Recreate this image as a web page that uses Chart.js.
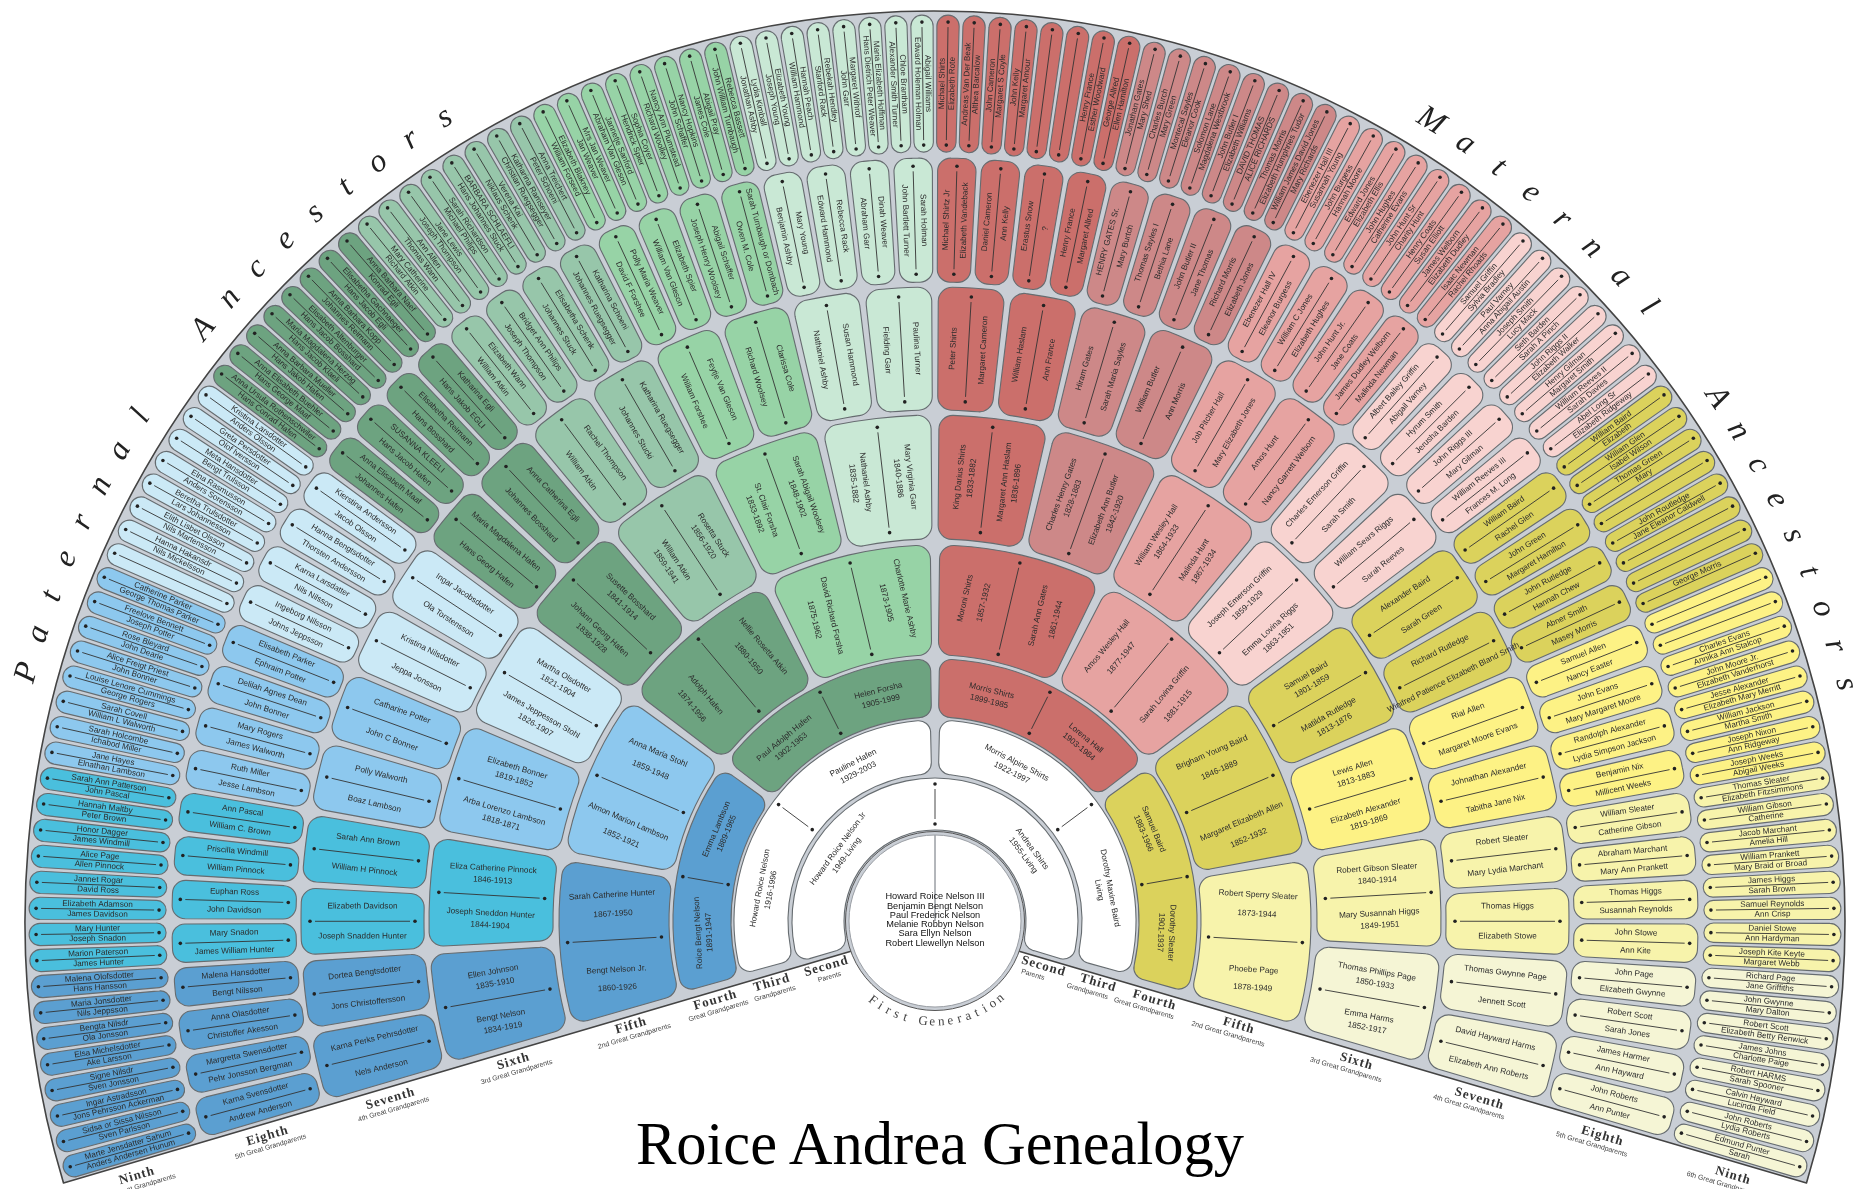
<!DOCTYPE html>
<html>
<head>
<meta charset="utf-8">
<title>Roice Andrea Genealogy</title>
<script src="https://cdn.jsdelivr.net/npm/chart.js@4/dist/chart.umd.js"></script>
<style>
  html, body { margin: 0; padding: 0; background: #fff; overflow: hidden; }
  #wrap { position: relative; width: 1864px; height: 1189px; }
  #fan { display: block; }
  #title {
    position: absolute; left: 0; width: 1880px; top: 1104px; text-align: center;
    font: 60.5px "Liberation Serif", serif; color: #000; line-height: 80px;
  }
</style>
</head>
<body>
<div id="wrap">
  <canvas id="fan" width="1864" height="1189"></canvas>
  <div id="title">Roice Andrea Genealogy</div>
</div>
<script>
// People, one list per generation, running clockwise from the lower left
const firstGeneration = ['Howard Roice Nelson III', 'Benjamin Bengt Nelson', 'Paul Frederick Nelson',
  'Melanie Robbyn Nelson', 'Sara Ellyn Nelson', 'Robert Llewellyn Nelson'];

const gen2Couples = [['Howard Roice Nelson Jr', '1949-Living', 'Andrea Shirts', '1955-Living']];

const gen3Couples = [
  ['Howard Roice Nelson', '1916-1996', 'Pauline Hafen', '1929-2003'],
  ['Morris Alpine Shirts', '1922-1997', 'Dorothy Maxine Baird', 'Living']
];

const gen4Couples = [
  ['Roice Bengt Nelson', '1891-1947', 'Emma Lambson', '1889-1965'],
  ['Paul Adolph Hafen', '1902-1963', 'Helen Forsha', '1905-1999'],
  ['Morris Shirts', '1899-1985', 'Lorena Hall', '1903-1984'],
  ['Samuel Baird', '1883-1966', 'Dorothy Sleater', '1901-1937']
];

const gen5Couples = [
  ['Sarah Catherine Hunter', '1867-1950', 'Bengt Nelson Jr.', '1860-1926'],
  ['Anna Maria Stohl', '1859-1948', 'Almon Marion Lambson', '1852-1921'],
  ['Nellie Rosetta Atkin', '1880-1950', 'Adolph Hafen', '1874-1956'],
  ['Charlotte Marie Ashby', '1873-1905', 'David Richard Forsha', '1875-1962'],
  ['Moroni Shirts', '1857-1932', 'Sarah Ann Gates', '1861-1944'],
  ['Amos Wesley Hall', '1877-1947', 'Sarah Lovina Griffin', '1881-1915'],
  ['Brigham Young Baird', '1846-1889', 'Margaret Elizabeth Allen', '1852-1932'],
  ['Robert Sperry Sleater', '1873-1944', 'Phoebe Page', '1878-1949']
];

const gen6Couples = [
  ['Ellen Johnson', '1835-1910', 'Bengt Nelson', '1834-1919'],
  ['Eliza Catherine Pinnock', '1846-1913', 'Joseph Sneddon Hunter', '1844-1904'],
  ['Elizabeth Bonner', '1819-1852', 'Arba Lorenzo Lambson', '1818-1871'],
  ['Martha Olsdotter', '1821-1904', 'James Jeppesson Stohl', '1826-1907'],
  ['Susette Bosshard', '1841-1914', 'Johann Georg Hafen', '1838-1928'],
  ['Rosetta Stuck', '1856-1920', 'William Atkin', '1859-1941'],
  ['Sarah Abigail Woolsey', '1848-1902', 'St. Clair Forsha', '1833-1892'],
  ['Mary Virginia Garr', '1840-1886', 'Nathaniel Ashby', '1835-1882'],
  ['King Darius Shirts', '1833-1882', 'Margaret Ann Haslam', '1836-1896'],
  ['Charles Henry Gates', '1828-1883', 'Elizabeth Ann Butler', '1842-1920'],
  ['William Wesley Hall', '1864-1933', 'Malinda Hunt', '1867-1934'],
  ['Joseph Emerson Griffin', '1859-1929', 'Emma Lovina Riggs', '1863-1951'],
  ['Samuel Baird', '1801-1859', 'Matilda Rutledge', '1813-1876'],
  ['Lewis Allen', '1813-1883', 'Elizabeth Alexander', '1819-1869'],
  ['Robert Gibson Sleater', '1840-1914', 'Mary Susannah Higgs', '1849-1951'],
  ['Thomas Phillips Page', '1850-1933', 'Emma Harms', '1852-1917']
];

const gen7Couples = [
  ['Karna Perks Pehrsdotter', 'Nels Anderson'], ['Dortea Bengtsdotter', 'Jons Christoffersson'],
  ['Elizabeth Davidson', 'Joseph Snadden Hunter'], ['Sarah Ann Brown', 'William H Pinnock'],
  ['Polly Walworth', 'Boaz Lambson'], ['Catharine Potter', 'John C Bonner'],
  ['Kristina Nilsdotter', 'Jeppa Jonsson'], ['Ingar Jacobsdotter', 'Ola Torstensson'],
  ['Maria Magdalena Hafen', 'Hans Georg Hafen'], ['Anna Catherina Egli', 'Johannes Bosshard'],
  ['Rachel Thompson', 'William Atkin'], ['Katharina Ruegsegger', 'Johannes Stucki'],
  ['Feytje Van Gleson', 'William Forshee'], ['Clarissa Cole', 'Richard Woolsey'],
  ['Susan Hammond', 'Nathaniel Ashby'], ['Paulina Turner', 'Fielding Garr'],
  ['Peter Shirts', 'Margaret Cameron'], ['William Haslam', 'Ann France'],
  ['Hiram Gates', 'Sarah Maria Sayles'], ['William Butler', 'Ann Morris'],
  ['Job Pitcher Hall', 'Mary Elizabeth Jones'], ['Amos Hunt', 'Nancy Garrett Welborn'],
  ['Charles Emerson Griffin', 'Sarah Smith'], ['William Sears Riggs', 'Sarah Reeves'],
  ['Alexander Baird', 'Sarah Green'], ['Richard Rutledge', 'Winifred Patience Elizabeth Bland Smith'],
  ['Rial Allen', 'Margaret Moore Evans'], ['Johnathan Alexander', 'Tabitha Jane Nix'],
  ['Robert Sleater', 'Mary Lydia Marchant'], ['Thomas Higgs', 'Elizabeth Stowe'],
  ['Thomas Gwynne Page', 'Jennett Scott'], ['David Hayward Harms', 'Elizabeth Ann Roberts']
];

const gen8Couples = [
  ['Karna Svensdotter', 'Andrew Anderson'], ['Margretta Swensdotter', 'Pehr Jonsson Bergman'],
  ['Anna Olasdotter', 'Christoffer Akesson'], ['Malena Hansdotter', 'Bengt Nilsson'],
  ['Mary Snadon', 'James William Hunter'], ['Euphan Ross', 'John Davidson'],
  ['Priscilla Windmill', 'William Pinnock'], ['Ann Pascal', 'William C. Brown'],
  ['Ruth Miller', 'Jesse Lambson'], ['Mary Rogers', 'James Walworth'],
  ['Delilah Agnes Dean', 'John Bonner'], ['Elisabeth Parker', 'Ephraim Potter'],
  ['Ingeborg Nilsson', 'Johns Jeppsson'], ['Karna Larsdatter', 'Nils Nilsson'],
  ['Hanna Bengtsdotter', 'Thorsten Andersson'], ['Kierstina Andersson', 'Jacob Olsson'],
  ['Anna Elisabeth Maaf', 'Johannes Hafen'], ['SUSANNA KLEELI', 'Hans Jacob Hafen'],
  ['Elisabetha Reimann', 'Hans Bosshard'], ['Katharina Egli', 'Hans Jakob EGLI'],
  ['Elizabeth Wann', 'William Atkin'], ['Bridget Ann Philips', 'Joseph Thompson'],
  ['Elisabetha Schenk', 'Johannes Stuck'], ['Katharina Schoeni', 'Johannes Ruegsegger'],
  ['Polly Maria Weaver', 'David F Forshee'], ['Elizabeth Spier', 'William Van Gleson'],
  ['Abigail Schaffer', 'Joseph Henry Woolsey'], ['Sarah Turnbaugh or Dombach', 'Owen M. Cole'],
  ['Mary Young', 'Benjamin Ashby'], ['Rebecca Rack', 'Edward Hammond'],
  ['Dinah Weaver', 'Abraham Garr'], ['Sarah Holman', 'John Bartlett Turner'],
  ['Michael Shirtz Jr', 'Elizabeth Vandeback'], ['Daniel Cameron', 'Ann Kelly'],
  ['Erastus Snow', '?'], ['Henry France', 'Margaret Allred'],
  ['HENRY GATES Sr.', 'Mary Burtch'], ['Thomas Sayles I', 'Bethia Lane'],
  ['John Butler II', 'Jane Thomas'], ['Richard Morris', 'Elizabeth Jones'],
  ['Ebenezer Hall IV', 'Eleanor Burgess'], ['William C Jones', 'Elizabeth Hughes'],
  ['John Hunt Jr.', 'Jane Coats'], ['James Dudley Welborn', 'Malinda Newman'],
  ['Albert Bailey Griffin', 'Abigail Varney'], ['Hyrum Smith', 'Jerusha Barden'],
  ['John Riggs III', 'Mary Gilman'], ['William Reeves III', 'Frances M. Long'],
  ['William Baird', 'Rachel Glen'], ['John Green', 'Margaret Hamilton'],
  ['John Rutledge', 'Hannah Chew'], ['Abner Smith', 'Masey Morris'],
  ['Samuel Allen', 'Nancy Easter'], ['John Evans', 'Mary Margaret Moore'],
  ['Randolph Alexander', 'Lydia Simpson Jackson'], ['Benjamin Nix', 'Millicent Weeks'],
  ['William Sleater', 'Catherine Gibson'], ['Abraham Marchant', 'Mary Ann Prankett'],
  ['Thomas Higgs', 'Susannah Reynolds'], ['John Stowe', 'Ann Kite'],
  ['John Page', 'Elizabeth Gwynne'], ['Robert Scott', 'Sarah Jones'],
  ['James Harmer', 'Ann Hayward'], ['John Roberts', 'Ann Punter']
];

const gen9Couples = [
  ['Marte Jensdatter Sahum', 'Anders Andersen Hunum'], ['Sidsa or Sissa Nilsson', 'Sven Parlsson'],
  ['Ingar Astradsson', 'Jons Pehrsson Ackerman'], ['Signe Nilsdr', 'Sven Jonsson'],
  ['Elsa Michelsdotter', 'Ake Larsson'], ['Bengta Nilsdr', 'Ola Jonsson'],
  ['Maria Jonsdotter', 'Nils Jeppsson'], ['Malena Olofsdotter', 'Hans Hansson'],
  ['Marion Paterson', 'James Hunter'], ['Mary Hunter', 'Joseph Snadon'],
  ['Elizabeth Adamson', 'James Davidson'], ['Jannet Rogar', 'David Ross'],
  ['Alice Page', 'Allen Pinnock'], ['Honor Dagger', 'James Windmill'],
  ['Hannah Maltby', 'Peter Brown'], ['Sarah Ann Patterson', 'John Pascal'],
  ['Jane Hayes', 'Elnathan Lambson'], ['Sarah Holcombe', 'Ichabod Miller'],
  ['Sarah Covell', 'William L Walworth'], ['Louise Lenore Cummings', 'George Rogers'],
  ['Alice Freigt Priest', 'John Bonner'], ['Rose Bleyard', 'John Dearie'],
  ['Freelove Bennett', 'Joseph Potter'], ['Catherine Parker', 'George Thomas Parker'],
  ['', ''], ['Hanna Hakansdr', 'Nils Mickelsson'],
  ['Elith Lisbet Olsson', 'Nils Martensson'], ['Beretha Trulsdotter', 'Lars Johannesson'],
  ['Elna Rasmusson', 'Anders Sorensson'], ['Meta Hansdotter', 'Bengt Trulsson'],
  ['Greta Persdotter', 'Olof Iversson'], ['Kristina Larsdotter', 'Anders Olsson'],
  ['Anna Ursula Rothenschwiler', 'Hans Conrad Hafen'], ['Anna Elisabeth Buehler', 'Hans George Maaf'],
  ['Anna Barbara Mueller', 'Hans Jakob Hafen'], ['Maria Magdalena Herzog', 'Hans Jacob Klaeli'],
  ['Elisabeth Altenburger', 'Hans Jacob Bosshard'], ['Anna Barbara Kopp', 'Johannes Reimann'],
  ['Elisabetha Gachnaeger', 'Hans Jacob Egli'], ['Anna Barbara Naef', 'Konrad Egli'],
  ['Mary Catherine', 'Richard Atkin'], ['Ann Allen', 'Thomas Wann'],
  ['Jane Lewis', 'Joseph Thompson'], ['Sarah Richardson', 'Michael Philips'],
  ['BARBARA SCHLAEFLI', 'Hans Johannes Stuck'], ['Verena Kai', 'Niklaus Schenk'],
  ['Katharina Ramseyer', 'Christian Ruegsegger'], ['Anna Treichert', 'Peter Schoeni'],
  ['Elizabeth Blakney', 'William Forseed'], ['Mrs Jan Weaver', 'Jan Weaver'],
  ['Jannetje Sanford', 'Abraham Van Gleson'], ['Sophia Coyer', 'Hendrick Spier'],
  ['Nancy Ann Plumstead', 'Richard Woolley'], ['Nancy Hopkins', 'John Schaffer'],
  ['Abigail Pray', 'James Cole'], ['Rebecca Bassett', 'John William Turnbaugh'],
  ['Lydia Kimball', 'Jonathan Ashby'], ['Elizabeth Young', 'Joseph Young'],
  ['Hannah Peach', 'William Hammond'], ['Rebekah Hendley', 'Stanford Rack'],
  ['Margaret Withrof', 'John Garr'], ['Maria Elizabeth Hoffman', 'Hans Dietrich Peter Weaver'],
  ['Chloe Brantham', 'Alexander Smith Turner'], ['Abigail Williams', 'Edward Holeman Holman'],
  ['Michael Shirts', 'Elizabeth Rote'], ['Andreas Van Der Beak', 'Althea Barcalow'],
  ['John Cameron', 'Margaret S Coyle'], ['John Kelly', 'Margaret Amour'],
  ['', ''], ['', ''],
  ['Henry France', 'Esther Woodward'], ['George Allred', 'Ellen Hamilton'],
  ['Jonathan Gates', 'Mary Shed'], ['Charles Burch', 'Mary Green'],
  ['Montecal Sayles', 'Eleanor Cook'], ['Solomon Lane', 'Magdalena Westbrook'],
  ['John Butler I', 'Elizabeth Williams'], ['DAVID THOMAS', 'ALICE RICHARDS'],
  ['Thomas Morris', 'Elizabeth Humphries Tudor'], ['William James David Jones', 'Mary Richards'],
  ['Ebenezer Hall III', 'Susannah Young'], ['John Burgess', 'Hannah Moore'],
  ['Edward Jones', 'Elizabeth Ellis'], ['John Hughes', 'Catherine Evans'],
  ['John Hunt Sr', 'Charity Hunt'], ['Henry Coats', 'Susan Elliott'],
  ['James Welborn', 'Elizabeth Dudley'], ['Isaac Newman', 'Rachel Rhoads'],
  ['Samuel Griffin', 'Sylvia Bradley'], ['Paul Varney', 'Anna Abigail Austin'],
  ['Joseph Smith', 'Lucy Mack'], ['Seth Barden', 'Sarah A Pinch'],
  ['John Riggs II', 'Elizabeth Walker'], ['Henry Gilman', 'Margaret Smith'],
  ['William Reeves II', 'Sarah Davies'], ['Abel Long Sr', 'Elizabeth Ridgeway'],
  ['William Baird', 'Elizabeth'], ['William Glen', 'Isabel Wilson'],
  ['Thomas Green', 'Mary'], ['', ''],
  ['John Routledge', 'Jane Eleanor Caldwell'], ['', ''],
  ['', ''], ['George Morris', ''],
  ['', ''], ['', ''],
  ['Charles Evans', 'Annika Ann Stalcop'], ['John Moore Jr.', 'Elizabeth Vanderhorst'],
  ['Jesse Alexander', 'Elizabeth Mary Merritt'], ['William Jackson', 'Martha Smith'],
  ['Joseph Nixon', 'Ann Ridgeway'], ['Joseph Weeks', 'Abigail Weeks'],
  ['Thomas Sleater', 'Elizabeth Fitzsimmons'], ['William Gibson', 'Catherine'],
  ['Jacob Marchant', 'Amelia Hill'], ['William Prankett', 'Mary Braid or Broad'],
  ['James Higgs', 'Sarah Brown'], ['Samuel Reynolds', 'Ann Crisp'],
  ['Daniel Stowe', 'Ann Hardyman'], ['Joseph Kite Keyte', 'Margaret Webb'],
  ['Richard Page', 'Jane Griffiths'], ['John Gwynne', 'Mary Dalton'],
  ['Robert Scott', 'Elizabeth Betty Renwick'], ['James Johns', 'Charlotte Paige'],
  ['Robert HARMS', 'Sarah Spooner'], ['Calvin Hayward', 'Lucinda Field'],
  ['John Roberts', 'Lydia Roberts'], ['Edmund Punter', 'Sarah']
];

const genTitles = ['Second', 'Third', 'Fourth', 'Fifth', 'Sixth', 'Seventh', 'Eighth', 'Ninth'];
const genSubtitles = ['Parents', 'Grandparents', 'Great Grandparents', '2nd Great Grandparents',
  '3rd Great Grandparents', '4th Great Grandparents', '5th Great Grandparents', '6th Great Grandparents'];

// one colour per sixth generation couple, older generations inherit it
const familyColors = ['#5b9fd1', '#4abfdd', '#8dc8ee', '#cbe9f6', '#6da380', '#97c6aa', '#97d3a6', '#c9e8d5',
  '#cb6f6b', '#cd8888', '#e6a3a1', '#f8d3d0', '#dbd25c', '#fdf285', '#f7f3ab', '#f5f5d5'];

// ring setup, outermost first. cellGap is the empty share of a cell's slot,
// Chart.js spacing hardly opens a gap on narrow arcs so the gaps are transparent slices
const rings = [
  { couples: gen9Couples, gen: 9, width: 137, gapOutside: 4, cellGap: 0.145, radius: 11, nameOffset: 5, dotInset: 7 },
  { couples: gen8Couples, gen: 8, width: 124, gapOutside: 6, cellGap: 0.12, radius: 13, nameOffset: 9, dotInset: 8 },
  { couples: gen7Couples, gen: 7, width: 123, gapOutside: 5, cellGap: 0.09, radius: 14, nameOffset: 15, dotInset: 9 },
  { couples: gen6Couples, gen: 6, width: 124, gapOutside: 5, cellGap: 0.068, radius: 14, dotInset: 9 },
  { couples: gen5Couples, gen: 5, width: 110, gapOutside: 6, cellGap: 0.054, radius: 14, dotInset: 8 },
  { couples: gen4Couples, gen: 4, width: 58, gapOutside: 4, cellGap: 0.037, radius: 12, dotInset: 6 },
  { couples: gen3Couples, gen: 3, width: 54, gapOutside: 3, cellGap: 0.025, radius: 12, dotInset: 6 },
  { couples: gen2Couples, gen: 2, width: 52, gapOutside: 4, cellGap: 0, radius: 12, dotInset: 6 }
];
const CENTER_RADIUS = 86;
const CENTER_GAP = 5;
const FAN_RADIUS = 910;
const FAN_ROTATION = -106.7;
const FAN_SWEEP = 213.4;

function cellColor(gen, i) {
  if (gen < 4) return '#ffffff';
  if (gen >= 6) return familyColors[i >> (gen - 6)];
  return familyColors[i << (6 - gen)];
}

const datasets = [];
rings.forEach(ring => {
  const g = ring.cellGap;
  const n = ring.couples.length;
  datasets.push({ data: [1], weight: ring.gapOutside, backgroundColor: 'transparent', borderWidth: 0 });
  datasets.push({
    data: g ? ring.couples.flatMap(() => [1 - g, g]) : ring.couples.map(() => 1),
    weight: ring.width,
    rotation: FAN_ROTATION + (g / 2) * (FAN_SWEEP / n),
    circumference: FAN_SWEEP,
    borderRadius: ring.radius,
    backgroundColor: g
      ? ring.couples.flatMap((c, i) => [cellColor(ring.gen, i), 'transparent'])
      : ring.couples.map((c, i) => cellColor(ring.gen, i)),
    borderColor: '#666c70',
    borderWidth: g ? ring.couples.flatMap(() => [1.1, 0]) : 1.1,
    ring: ring
  });
});
datasets.push({ data: [1], weight: CENTER_GAP, backgroundColor: 'transparent', borderWidth: 0 });
datasets.push({ data: [1], weight: CENTER_RADIUS, backgroundColor: '#ffffff', borderColor: '#9a9ea4', borderWidth: 1, center: true });

const NAME_FONT = '8.2px "Liberation Sans", Arial, sans-serif';
const INK = '#2b2b2b';

function pointAt(el, angle, r) {
  return { x: el.x + Math.cos(angle) * r, y: el.y + Math.sin(angle) * r };
}

function drawMarriageLine(ctx, el, mid, rIn, rOut, inset) {
  const a = pointAt(el, mid, rIn + inset), b = pointAt(el, mid, rOut - inset);
  const a2 = pointAt(el, mid, rIn + inset + 5), b2 = pointAt(el, mid, rOut - inset - 5);
  ctx.strokeStyle = '#333';
  ctx.lineWidth = 0.9;
  ctx.beginPath();
  ctx.moveTo(a2.x, a2.y);
  ctx.lineTo(b2.x, b2.y);
  ctx.stroke();
  ctx.fillStyle = '#222';
  [a, b].forEach(p => {
    ctx.beginPath();
    ctx.arc(p.x, p.y, 1.8, 0, Math.PI * 2);
    ctx.fill();
  });
}

function drawText(ctx, text, x, y, rot) {
  if (!text) return;
  ctx.save();
  ctx.translate(x, y);
  ctx.rotate(rot);
  ctx.fillText(text, 0, 0);
  ctx.restore();
}

// letters set one by one on a circle, angles in degrees from the top
function letterArc(ctx, text, cx, cy, r, startDeg, stepDeg, below) {
  [...text].forEach((ch, i) => {
    const deg = startDeg + stepDeg * i;
    const a = deg * Math.PI / 180;
    ctx.save();
    if (below) {
      ctx.translate(cx + Math.sin(a) * r, cy + Math.cos(a) * r);
      ctx.rotate(-a);
    } else {
      ctx.translate(cx + Math.sin(a) * r, cy - Math.cos(a) * r);
      ctx.rotate(a);
    }
    ctx.fillText(ch, 0, 0);
    ctx.restore();
  });
}

const fanPlugin = {
  id: 'fanBackground',
  beforeDatasetsDraw(chart) {
    const ctx = chart.ctx;
    const el = chart.getDatasetMeta(datasets.length - 1).data[0];
    const cx = el.x, cy = el.y;
    const R = FAN_RADIUS;
    const left = Math.atan2(263, -875), right = Math.atan2(263, 875);
    ctx.save();
    ctx.beginPath();
    ctx.moveTo(cx, cy + 5.5);
    ctx.lineTo(cx + Math.cos(left) * R, cy + Math.sin(left) * R);
    ctx.arc(cx, cy, R, left, right + Math.PI * 2);
    ctx.closePath();
    ctx.lineJoin = 'round';
    ctx.fillStyle = '#c9ced5';
    ctx.fill();
    ctx.strokeStyle = '#444';
    ctx.lineWidth = 1.6;
    ctx.stroke();
    // band round the centre circle
    ctx.beginPath();
    ctx.arc(cx, cy, CENTER_RADIUS + 3.5, 0, Math.PI * 2);
    ctx.fillStyle = '#c9ced5';
    ctx.fill();
    ctx.strokeStyle = '#555';
    ctx.lineWidth = 1;
    ctx.stroke();
    ctx.restore();
  },
  afterDatasetsDraw(chart) {
    const ctx = chart.ctx;
    ctx.save();
    ctx.textAlign = 'center';
    ctx.textBaseline = 'middle';
    let cx = 0, cy = 0;
    chart.data.datasets.forEach((ds, di) => {
      const meta = chart.getDatasetMeta(di);
      if (ds.center) {
        cx = meta.data[0].x;
        cy = meta.data[0].y;
      }
      if (!ds.ring) return;
      const ring = ds.ring;
      const slot = ring.cellGap ? 2 : 1;
      ring.couples.forEach((couple, i) => {
        const el = meta.data[i * slot].getProps(['x', 'y', 'startAngle', 'endAngle', 'innerRadius', 'outerRadius'], true);
        const rIn = el.innerRadius, rOut = el.outerRadius;
        const rMid = (rIn + rOut) / 2;
        const mid = (el.startAngle + el.endAngle) / 2;
        drawMarriageLine(ctx, el, mid, rIn, rOut, ring.dotInset);
        ctx.font = NAME_FONT;
        ctx.fillStyle = INK;
        if (ring.gen <= 4) {
          // names follow the ring on the inner generations
          const quarter = (el.endAngle - el.startAngle) / 4;
          [[couple[0], couple[1], mid - quarter], [couple[2], couple[3], mid + quarter]].forEach(p => {
            const rot = p[2] + Math.PI / 2;
            const n = pointAt(el, p[2], rMid + 4), d = pointAt(el, p[2], rMid - 7);
            drawText(ctx, p[0], n.x, n.y, rot);
            drawText(ctx, p[1], d.x, d.y, rot);
          });
        } else {
          // names run along the radius further out
          const onRight = Math.cos(mid) > 0;
          const rot = onRight ? mid : mid + Math.PI;
          const c = pointAt(el, mid, rMid);
          const nx = -Math.sin(rot), ny = Math.cos(rot);
          const put = (text, off) => drawText(ctx, text, c.x + nx * off, c.y + ny * off, rot);
          if (ring.gen === 5) {
            put(couple[0], -45); put(couple[1], -26); put(couple[2], 30); put(couple[3], 48);
          } else if (ring.gen === 6) {
            put(couple[0], -27); put(couple[1], -15); put(couple[2], 18); put(couple[3], 30);
          } else {
            put(couple[0], -ring.nameOffset); put(couple[1], ring.nameOffset);
          }
        }
      });
    });

    // centre circle names
    ctx.font = '9.2px "Liberation Sans", Arial, sans-serif';
    ctx.fillStyle = '#111';
    firstGeneration.forEach((name, i) => {
      ctx.fillText(name, cx, cy + (i - 2.5) * 9.3 - 1);
    });

    // generation labels under both straight edges
    const tilt = 16.4 * Math.PI / 180;
    const ringMids = rings.slice().reverse();
    genTitles.forEach((title, i) => {
      const ds = datasets.find(d => d.ring === ringMids[i]);
      const el = chart.getDatasetMeta(datasets.indexOf(ds)).data[0];
      const r = (el.innerRadius + el.outerRadius) / 2;
      const d = 12 + r * 0.0085;
      [-1, 1].forEach(side => {
        const ux = side * Math.cos(tilt), uy = Math.sin(tilt);
        const vx = -side * Math.sin(tilt), vy = Math.cos(tilt);
        const rot = side * tilt;
        const subR = side > 0 ? r - 8 : r;
        ctx.font = 'bold 13px "Liberation Serif", serif';
        ctx.letterSpacing = '1px';
        ctx.fillStyle = '#333';
        drawText(ctx, title, cx + ux * r + vx * d, cy + uy * r + vy * d, rot);
        ctx.font = '7px "Liberation Sans", Arial, sans-serif';
        ctx.letterSpacing = '0px';
        ctx.fillStyle = '#444';
        drawText(ctx, genSubtitles[i], cx + ux * subR + vx * (d + 11), cy + uy * subR + vy * (d + 11), rot);
      });
    });

    // the big arc captions
    ctx.font = 'italic 32px "Liberation Serif", serif';
    ctx.fillStyle = '#222';
    letterArc(ctx, 'Paternal', cx, cy, 941, -74.7, 2.45);
    letterArc(ctx, 'Ancestors', cx, cy, 941, -51, 2.45);
    letterArc(ctx, 'Maternal', cx, cy, 941, 31.8, 2.5);
    letterArc(ctx, 'Ancestors', cx, cy, 941, 56.2, 2.4);
    ctx.font = '13px "Liberation Serif", serif';
    ctx.fillStyle = '#444';
    letterArc(ctx, 'First Generation', cx, cy, 101, -38, 5.2, true);
    ctx.restore();
  }
};

new Chart(document.getElementById('fan'), {
  type: 'doughnut',
  data: { datasets: datasets },
  plugins: [fanPlugin],
  options: {
    responsive: false,
    animation: false,
    events: [],
    cutout: 0,
    radius: FAN_RADIUS,
    // chart area is centred on the hub of the fan, the radius is set by hand and runs past the page
    layout: { padding: { left: 6, right: 0, top: 653, bottom: 0 } },
    plugins: { legend: { display: false }, title: { display: false }, tooltip: { enabled: false } }
  }
});
</script>
</body>
</html>
